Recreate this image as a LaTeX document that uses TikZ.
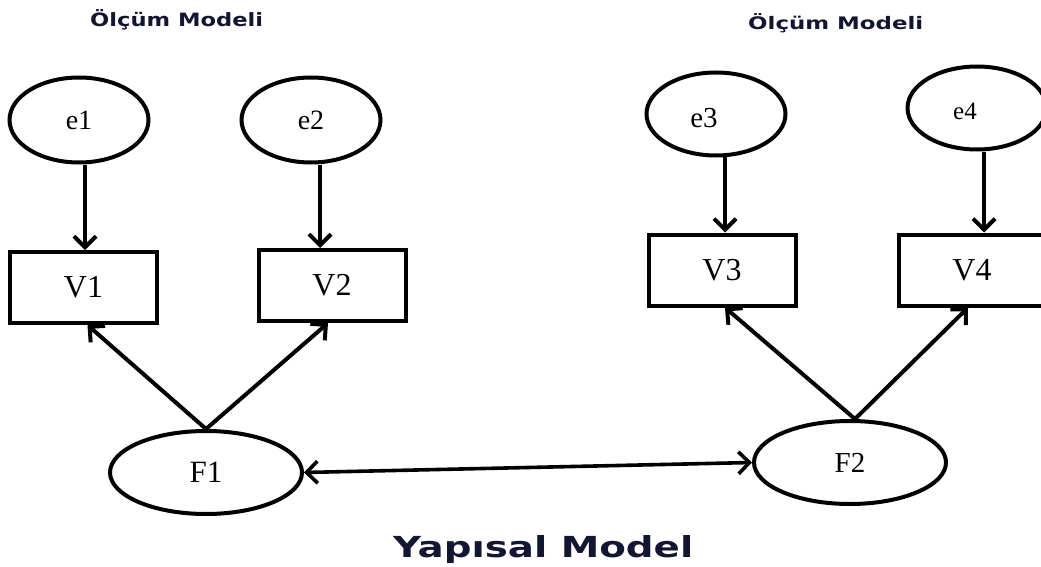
\documentclass[tikz,border=0pt]{standalone}
\usepackage{fontspec}
\setmainfont{Liberation Serif}
\newfontfamily\bigfont{DejaVu Sans}
\usetikzlibrary{shapes.geometric,arrows.meta}
\definecolor{navy}{RGB}{18,22,48}

\begin{document}
\begin{tikzpicture}[x=1pt,y=-1pt,
  errnode/.style={ellipse, draw, line width=4pt, inner sep=0pt,
    minimum width=139pt, minimum height=85pt, font=\fontsize{28}{33}\selectfont},
  facnode/.style={ellipse, draw, line width=4pt, inner sep=0pt,
    minimum width=192pt, minimum height=83pt, font=\fontsize{31}{36}\selectfont},
  obsnode/.style={rectangle, draw, line width=4pt, inner sep=0pt,
    minimum width=147pt, minimum height=71pt, font=\fontsize{32}{38}\selectfont},
  heading/.style={anchor=base west, inner sep=0pt, text=navy},
  arr/.style={line width=4pt, -{Straight Barb[length=11pt,width=22pt]}},
  biarr/.style={line width=3.6pt, {Straight Barb[length=11pt,width=22pt]}-{Straight Barb[length=11pt,width=22pt]}}
]
\useasboundingbox (0,0) rectangle (1041,567);
\clip (0,0) rectangle (1041,567);

% headings
\node[heading] (h1) at (90,27) {\resizebox{173pt}{17pt}{\bigfont\bfseries Ölçüm Modeli}};
\node[heading] (h2) at (748,30) {\resizebox{175pt}{16pt}{\bigfont\bfseries Ölçüm Modeli}};
\node[heading] (h3) at (393,557) {\resizebox{300pt}{22pt}{\bigfont\bfseries Yapısal Model}};

% error terms
\node[errnode] (e1) at (79,120) {e1};
\node[errnode] (e2) at (311,120) {e2};
\node[errnode, minimum height=83pt,
  label={[xshift=-12pt,yshift=-4pt,font=\fontsize{29}{34}\selectfont]center:e3}] (e3) at (716,114) {};
\node[errnode, minimum height=83pt,
  label={[xshift=-12pt,yshift=-3pt,font=\fontsize{25}{30}\selectfont]center:e4}] (e4) at (977,108) {};

% observed variables
\node[obsnode] (V1) at (83.5,287.5) {V1};
\node[obsnode] (V2) at (332,285.5) {V2};
\node[obsnode] (V3) at (722,270) {V3};
\node[obsnode] (V4) at (972,270) {V4};

% latent factors
\node[facnode] (F1) at (206,472.5) {F1};
\node[facnode, font=\fontsize{29}{34}\selectfont] (F2) at (850,462.5) {F2};

% measurement errors
\draw[arr] ([xshift=6pt]e1.south) -- ([xshift=1.5pt]V1.north);
\draw[arr] ([xshift=9pt]e2.south) -- ([xshift=-12pt]V2.north);
\draw[arr] ([xshift=9pt,yshift=4pt]e3.south) -- ([xshift=3pt]V3.north);
\draw[arr] ([xshift=7pt]e4.south) -- ([xshift=12pt]V4.north);

% loadings
\draw[arr] (F1.north) -- ([xshift=4pt]V1.south);
\draw[arr] (F1.north) -- ([xshift=-4pt]V2.south);
\draw[arr] ([xshift=5pt]F2.north) -- ([xshift=3pt]V3.south);
\draw[arr] ([xshift=5pt]F2.north) -- ([xshift=-4pt]V4.south);

% covariance between factors
\draw[biarr] (F1.east) -- (F2.west);
\end{tikzpicture}
\end{document}
